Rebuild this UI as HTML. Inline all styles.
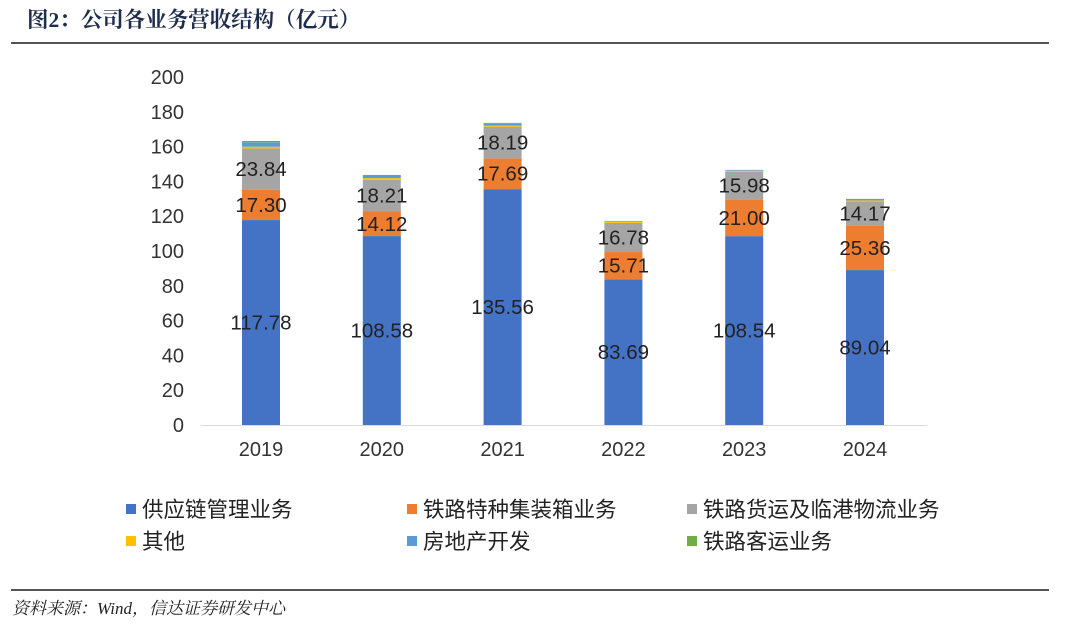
<!DOCTYPE html>
<html><head><meta charset="utf-8"><style>
body{margin:0;background:#fff;width:1080px;height:627px;overflow:hidden;font-family:"Liberation Sans","Noto Sans CJK SC",sans-serif}
</style></head><body>
<div style="position:absolute;left:27px;top:3px;font-size:21.5px;font-weight:bold;color:#1f2d4d;font-family:'Liberation Serif','Noto Serif CJK SC',serif">图2：公司各业务营收结构（亿元）</div>
<div style="position:absolute;left:11px;top:42px;width:1038px;height:2px;background:#555"></div>
<div style="position:absolute;left:11px;top:589px;width:1038px;height:2px;background:#555"></div>
<div style="position:absolute;left:12px;top:594px;font-size:17px;font-style:italic;color:#222;font-family:'Liberation Serif','Noto Serif CJK SC',serif">资料来源：Wind，信达证券研发中心</div>
<svg id="c" width="1080" height="627" style="position:absolute;left:0;top:0"></svg>
<script>
const years=["2019","2020","2021","2022","2023","2024"];
const supply=[117.78,108.58,135.56,83.69,108.54,89.04];
const container=[17.30,14.12,17.69,15.71,21.00,25.36];
const freight=[23.84,18.21,18.19,16.78,15.98,14.17];
const other=[1.0,1.0,0.6,0.6,0.6,0.5];
const realEstate=[2.6,1.2,1.4,0.4,0.4,0.8];
const passenger=[0.7,0.6,0.2,0.1,0.1,0.1];
const yTicks=[0,20,40,60,80,100,120,140,160,180,200];
const seriesNames=["供应链管理业务","铁路特种集装箱业务","铁路货运及临港物流业务","其他","房地产开发","铁路客运业务"];
const series=[supply,container,freight,other,realEstate,passenger];
const colors=["#4472c4","#ed7d31","#a5a5a5","#ffc000","#5b9bd5","#70ad47"];
const labeled=[true,true,true,false,false,false];
const svg=document.getElementById('c');const NS="http://www.w3.org/2000/svg";
const y0=425,yTop=77,vmax=200;
const y=v=>y0-(y0-yTop)*v/vmax;
const x=i=>261+i*120.8;
const bw=38;
function mk(t,a,txt){const e=document.createElementNS(NS,t);for(const k in a)e.setAttribute(k,a[k]);if(txt!==undefined)e.textContent=txt;svg.appendChild(e);return e;}
const ax=mk('line',{x1:201,x2:927,y1:y0+0.5,y2:y0+0.5,stroke:'#d9d9d9','stroke-width':1});


yTicks.forEach(t=>{const e=mk('text',{x:184,y:y(t)+7,'text-anchor':'end','font-size':20,fill:'#333'},t);

});
years.forEach((yr,i)=>{
const e=mk('text',{x:x(i),y:456,'text-anchor':'middle','font-size':20,fill:'#333'},yr);


let cum=0;
series.forEach((s,k)=>{const v=s[i];const r=mk('rect',{x:x(i)-bw/2,y:y(cum+v),width:bw,height:y(cum)-y(cum+v),fill:colors[k]});


if(labeled[k]){const l=mk('text',{x:x(i),y:y(cum+v/2)+7,'text-anchor':'middle','font-size':20.5,fill:'#222'},v.toFixed(2));

}
cum+=v;});
});
const lx=[126,407,687],ly=[509,541];
seriesNames.forEach((n,k)=>{const cx=lx[k%3],cy=ly[Math.floor(k/3)];
const r=mk('rect',{x:cx,y:cy-5,width:10,height:10,fill:colors[k]});


const t=mk('text',{x:cx+16,y:cy+8,'font-size':21.5,fill:'#222'},n);

});
</script>
</body></html>
